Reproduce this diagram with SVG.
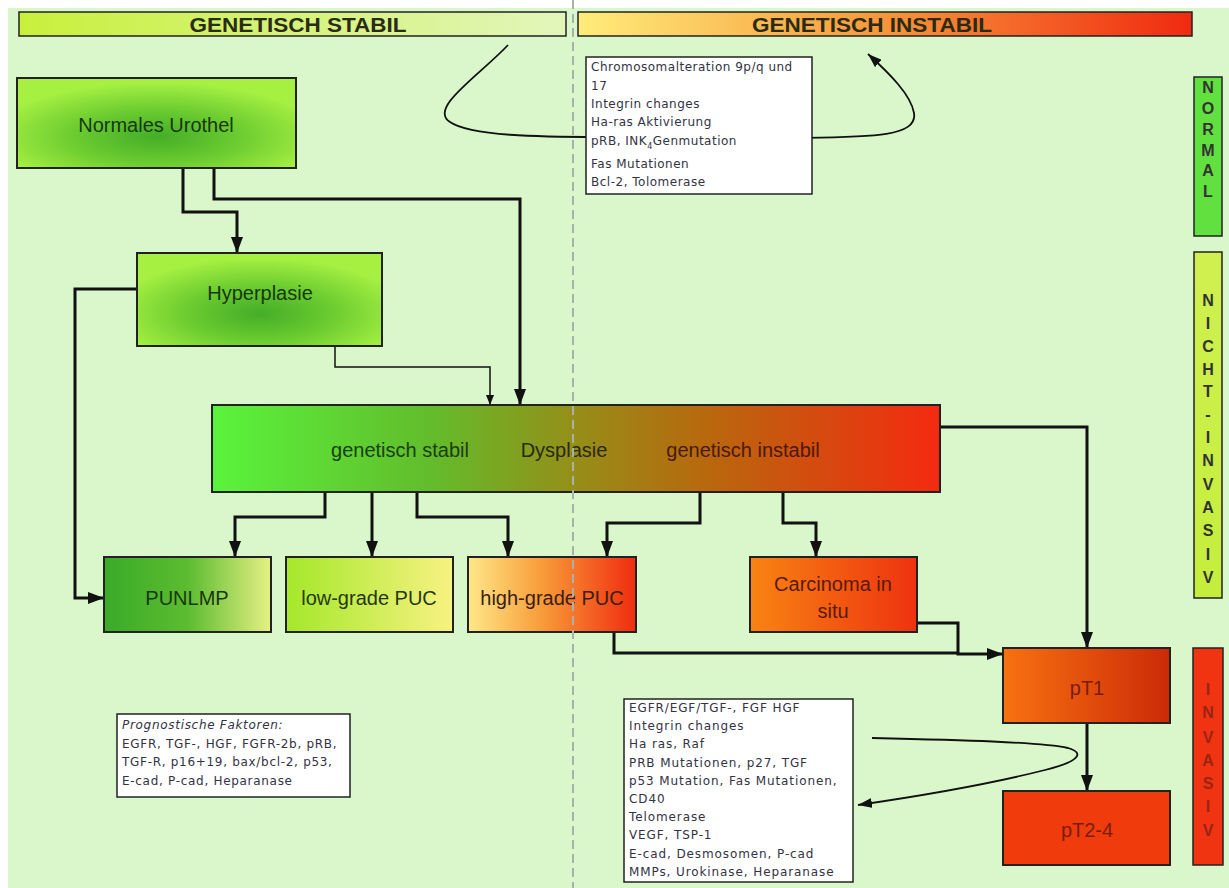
<svg xmlns="http://www.w3.org/2000/svg" width="1229" height="888" viewBox="0 0 1229 888">
<style>
.box{stroke:#222;stroke-width:2}
.nt{font-family:"Liberation Sans",Arial,sans-serif;font-size:20px;text-anchor:middle;dominant-baseline:central}
.hd{font-family:"Liberation Sans",Arial,sans-serif;font-weight:bold;font-size:21px;text-anchor:middle;fill:#2b2b14}
.vt{font-family:"Liberation Sans",Arial,sans-serif;font-weight:bold;font-size:16px;text-anchor:middle;dominant-baseline:central}
.sm{font-family:"DejaVu Sans",sans-serif;font-size:12px;fill:#333344}
.c{fill:none;stroke:#111;stroke-width:3}
.ct{fill:none;stroke:#111;stroke-width:1.5}
.cv{fill:none;stroke:#111;stroke-width:1.8}
</style>
<defs>
<marker id="ah" viewBox="0 0 16 12" refX="16" refY="6" markerWidth="16" markerHeight="12" markerUnits="userSpaceOnUse" orient="auto"><path d="M0,0 L16,6 L0,12 z" fill="#111"/></marker>
<marker id="ahs" viewBox="0 0 10 8" refX="10" refY="4" markerWidth="10" markerHeight="8" markerUnits="userSpaceOnUse" orient="auto"><path d="M0,0 L10,4 L0,8 z" fill="#111"/></marker>
<marker id="ahc" viewBox="0 0 14 10" refX="14" refY="5" markerWidth="14" markerHeight="10" markerUnits="userSpaceOnUse" orient="auto"><path d="M0,0 L14,5 L0,10 z" fill="#111"/></marker>
<radialGradient id="gN" cx="0.5" cy="0.65" r="0.6"><stop offset="0" stop-color="#44ae28"/><stop offset="0.5" stop-color="#6ccc30"/><stop offset="1" stop-color="#a6f042"/></radialGradient>
<linearGradient id="gD"><stop offset="0" stop-color="#5af43c"/><stop offset="0.3" stop-color="#62bc2c"/><stop offset="0.5" stop-color="#968e18"/><stop offset="0.68" stop-color="#b8680e"/><stop offset="1" stop-color="#f42a10"/></linearGradient>
<linearGradient id="gP"><stop offset="0" stop-color="#3aaa28"/><stop offset="0.5" stop-color="#5cbc30"/><stop offset="1" stop-color="#e6f084"/></linearGradient>
<linearGradient id="gL"><stop offset="0" stop-color="#a4e82a"/><stop offset="1" stop-color="#f8f282"/></linearGradient>
<linearGradient id="gH"><stop offset="0" stop-color="#ffe888"/><stop offset="0.45" stop-color="#f89a38"/><stop offset="1" stop-color="#f02c10"/></linearGradient>
<linearGradient id="gC"><stop offset="0" stop-color="#f88412"/><stop offset="1" stop-color="#ee3210"/></linearGradient>
<linearGradient id="gT1"><stop offset="0" stop-color="#f87210"/><stop offset="1" stop-color="#cc2a08"/></linearGradient>
<linearGradient id="gHS"><stop offset="0" stop-color="#c8f03a"/><stop offset="1" stop-color="#e2f6bc"/></linearGradient>
<linearGradient id="gHI"><stop offset="0" stop-color="#ffec7a"/><stop offset="0.45" stop-color="#f8a040"/><stop offset="1" stop-color="#f02a10"/></linearGradient>
<linearGradient id="gNI" x1="0" y1="0" x2="0" y2="1"><stop offset="0" stop-color="#d0f050"/><stop offset="1" stop-color="#c4ee3c"/></linearGradient>
</defs>
<rect x="0" y="0" width="1229" height="888" fill="#ffffff"/>
<rect x="8" y="8" width="1221" height="880" fill="#daf7cc"/>

<g id="header-stabil">
<rect x="19" y="12" width="547" height="24" fill="url(#gHS)" stroke="#222" stroke-width="1.5"/>
<text class="hd" x="298" y="32" textLength="217" lengthAdjust="spacingAndGlyphs">GENETISCH STABIL</text>
</g>
<g id="header-instabil">
<rect x="578" y="12" width="614" height="24" fill="url(#gHI)" stroke="#222" stroke-width="1.5"/>
<text class="hd" x="872" y="32" textLength="240" lengthAdjust="spacingAndGlyphs" fill="#3a2010">GENETISCH INSTABIL</text>
</g>

<g id="bar-normal">
<rect x="1194" y="77" width="28" height="159" fill="#62e040" stroke="#222" stroke-width="1.5"/>
<g class="vt" fill="#333">
<text x="1208" y="87">N</text><text x="1208" y="108">O</text><text x="1208" y="129">R</text><text x="1208" y="150">M</text><text x="1208" y="170">A</text><text x="1208" y="191">L</text>
</g>
</g>
<g id="bar-nicht-invasiv">
<rect x="1194" y="252" width="28" height="346" fill="url(#gNI)" stroke="#222" stroke-width="1.5"/>
<g class="vt" fill="#333">
<text x="1208" y="300">N</text><text x="1208" y="323">I</text><text x="1208" y="346">C</text><text x="1208" y="369">H</text><text x="1208" y="391">T</text><text x="1208" y="414">-</text><text x="1208" y="437">I</text><text x="1208" y="460">N</text><text x="1208" y="484">V</text><text x="1208" y="507">A</text><text x="1208" y="530">S</text><text x="1208" y="554">I</text><text x="1208" y="577">V</text>
</g>
</g>
<g id="bar-invasiv">
<rect x="1193" y="648" width="30" height="217" fill="#f03412" stroke="#222" stroke-width="1.5"/>
<g class="vt" fill="#9a2414">
<text x="1208" y="689">I</text><text x="1208" y="712">N</text><text x="1208" y="737">V</text><text x="1208" y="760">A</text><text x="1208" y="783">S</text><text x="1208" y="806">I</text><text x="1208" y="830">V</text>
</g>
</g>

<g id="connectors">
<path class="c" d="M183,168 V212 H237 V253" marker-end="url(#ah)"/>
<path class="c" d="M214,168 V199 H520 V405" marker-end="url(#ah)"/>
<path class="ct" d="M335,346 V367 H490 V405" marker-end="url(#ahs)"/>
<path class="c" d="M137,289 H75 V598 H104" marker-end="url(#ah)"/>
<path class="c" d="M325,492 V517 H235 V557" marker-end="url(#ah)"/>
<path class="c" d="M372,492 V557" marker-end="url(#ah)"/>
<path class="c" d="M417,492 V517 H508 V557" marker-end="url(#ah)"/>
<path class="c" d="M700,492 V523 H607 V557" marker-end="url(#ah)"/>
<path class="c" d="M783,492 V523 H816 V557" marker-end="url(#ah)"/>
<path class="c" d="M940,427 H1087 V648" marker-end="url(#ah)"/>
<path class="c" d="M614,632 V653 H958"/>
<path class="c" d="M917,623 H958 V654 H1003" marker-end="url(#ah)"/>
<path class="c" d="M1087,723 V791" marker-end="url(#ah)"/>
<path class="cv" d="M508,45 C480,75 428,108 450,122 C470,136 540,137 600,137 L800,138 C870,137 918,137 914,113 C911,95 890,74 868,54" marker-end="url(#ahc)"/>
<path class="cv" d="M872,738 C960,740 1040,742 1068,748 C1086,753 1078,762 1045,770 C990,784 920,796 858,805" marker-end="url(#ahc)"/>
</g>

<g id="node-normales-urothel">
<rect class="box" x="17" y="78" width="279" height="90" fill="url(#gN)"/>
<text class="nt" x="156" y="125" fill="#183810">Normales Urothel</text>
</g>
<g id="node-hyperplasie">
<rect class="box" x="137" y="253" width="245" height="93" fill="url(#gN)"/>
<text class="nt" x="260" y="293" fill="#183810">Hyperplasie</text>
</g>
<g id="node-dysplasie">
<rect class="box" x="212" y="405" width="728" height="87" fill="url(#gD)"/>
<text class="nt" x="400" y="450" fill="#1a4010">genetisch stabil</text>
<text class="nt" x="564" y="450" fill="#2a2a10">Dysplasie</text>
<text class="nt" x="743" y="450" fill="#4a1a08">genetisch instabil</text>
</g>
<g id="node-punlmp">
<rect class="box" x="104" y="557" width="167" height="75" fill="url(#gP)"/>
<text class="nt" x="187" y="598" fill="#183810">PUNLMP</text>
</g>
<g id="node-low-grade">
<rect class="box" x="286" y="557" width="167" height="75" fill="url(#gL)"/>
<text class="nt" x="369" y="598" fill="#283810">low-grade PUC</text>
</g>
<g id="node-high-grade">
<rect class="box" x="468" y="557" width="168" height="75" fill="url(#gH)"/>
<text class="nt" x="552" y="598" fill="#3a2010">high-grade PUC</text>
</g>
<g id="node-cis">
<rect class="box" x="750" y="557" width="167" height="75" fill="url(#gC)"/>
<text class="nt" x="833" y="584" fill="#5a1a08">Carcinoma in</text>
<text class="nt" x="833" y="611" fill="#5a1a08">situ</text>
</g>
<g id="node-pt1">
<rect class="box" x="1003" y="648" width="167" height="75" fill="url(#gT1)"/>
<text class="nt" x="1087" y="688" fill="#7a1c0c">pT1</text>
</g>
<g id="node-pt2-4">
<rect class="box" x="1003" y="791" width="167" height="74" fill="#f03c0c"/>
<text class="nt" x="1087" y="830" fill="#7a1c0c">pT2-4</text>
</g>

<line x1="573" y1="0" x2="573" y2="888" stroke="#a8b2a8" stroke-width="2" stroke-dasharray="9,5"/>

<g id="box-chromosom">
<rect x="586" y="57" width="226" height="137" fill="#fff" stroke="#222" stroke-width="1.5"/>
<g class="sm" letter-spacing="0.5">
<text x="591" y="71">Chromosomalteration 9p/q und</text>
<text x="591" y="90">17</text>
<text x="591" y="108">Integrin changes</text>
<text x="591" y="126">Ha-ras Aktivierung</text>
<text x="591" y="145">pRB, INK<tspan font-size="8px" dy="4">4</tspan><tspan dy="-4">Genmutation</tspan></text>
<text x="591" y="168">Fas Mutationen</text>
<text x="591" y="186">Bcl-2, Tolomerase</text>
</g>
</g>
<g id="box-prognostisch">
<rect x="117" y="714" width="233" height="83" fill="#fff" stroke="#222" stroke-width="1.5"/>
<g class="sm" letter-spacing="0.7">
<text x="122" y="729" font-style="italic">Prognostische Faktoren:</text>
<text x="122" y="748">EGFR, TGF-, HGF, FGFR-2b, pRB,</text>
<text x="122" y="766">TGF-R, p16+19, bax/bcl-2, p53,</text>
<text x="122" y="785">E-cad, P-cad, Heparanase</text>
</g>
</g>
<g id="box-invasiv-faktoren">
<rect x="624" y="699" width="229" height="183" fill="#fff" stroke="#222" stroke-width="1.5"/>
<g class="sm" letter-spacing="0.9">
<text x="629" y="712">EGFR/EGF/TGF-, FGF HGF</text>
<text x="629" y="730">Integrin changes</text>
<text x="629" y="748">Ha ras, Raf</text>
<text x="629" y="767">PRB Mutationen, p27, TGF</text>
<text x="629" y="785">p53 Mutation, Fas Mutationen,</text>
<text x="629" y="803">CD40</text>
<text x="629" y="821">Telomerase</text>
<text x="629" y="839">VEGF, TSP-1</text>
<text x="629" y="858">E-cad, Desmosomen, P-cad</text>
<text x="629" y="876">MMPs, Urokinase, Heparanase</text>
</g>
</g>
</svg>
